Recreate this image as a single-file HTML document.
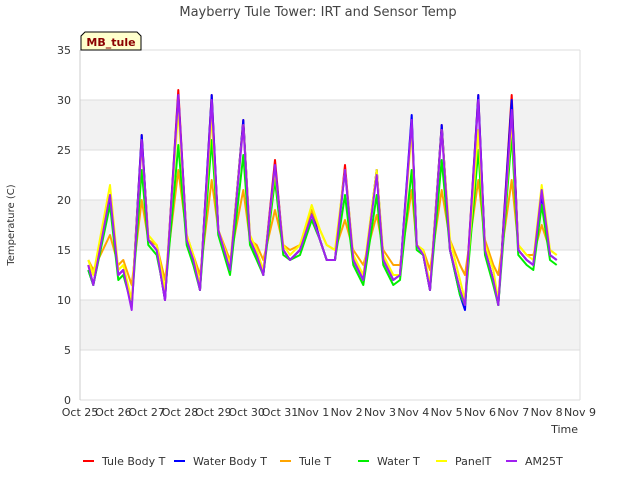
<!DOCTYPE html>
<html><head><meta charset="utf-8"><style>
body{margin:0;background:#fff;font-family:"Liberation Sans","DejaVu Sans",sans-serif}
svg text{font-family:"DejaVu Sans","Liberation Sans",sans-serif}
</style></head><body>
<svg id="c" width="640" height="480" xmlns="http://www.w3.org/2000/svg">
<text x="318" y="16" text-anchor="middle" font-size="13" fill="#444">Mayberry Tule Tower: IRT and Sensor Temp</text>
<g id="bands"></g><g id="axes"></g><g id="series"></g>
<g>
<path d="M81,50 L81,36 L85,32 L137,32 L141,36 L141,50 Z" fill="#ffffcc" stroke="#000" stroke-width="1"/>
<text x="111" y="46" text-anchor="middle" font-size="11" font-weight="bold" fill="#8b0000">MB_tule</text></g>
<text x="14" y="225" transform="rotate(-90 14 225)" text-anchor="middle" font-size="10" fill="#333">Temperature (C)</text>
<text x="578" y="433" text-anchor="end" font-size="11" fill="#333">Time</text>
<g id="legend"></g>
</svg>
<script>
const xTicks=["Oct 25","Oct 26","Oct 27","Oct 28","Oct 29","Oct 30","Oct 31","Nov 1","Nov 2","Nov 3","Nov 4","Nov 5","Nov 6","Nov 7","Nov 8","Nov 9"];
const yTicks=[0,5,10,15,20,25,30,35];
const seriesNames=["Tule Body T","Water Body T","Tule T","Water T","PanelT","AM25T"];
const seriesColors=["#ff0000","#0000ff","#ffa500","#00ee00","#ffff00","#a020f0"];
const times=[0.25,0.4,0.9,1.15,1.3,1.55,1.85,2.05,2.3,2.55,2.95,3.2,3.4,3.6,3.95,4.15,4.5,4.9,5.1,5.3,5.5,5.85,6.1,6.3,6.6,6.95,7.2,7.4,7.65,7.95,8.2,8.5,8.9,9.1,9.4,9.6,9.95,10.1,10.3,10.5,10.85,11.1,11.4,11.55,11.95,12.15,12.4,12.55,12.95,13.15,13.4,13.6,13.85,14.1,14.3];
const tuleBody=[13.5,11.5,20.5,12.5,13,9.5,26.5,16,15,10,31,16,14,11,30.5,17,13,28,16,14.5,12.5,24,15,14,15,19,16,14,14,23.5,14,12,23,14,12,12.5,28,15.5,14.5,11,27.5,15,11,9.5,30.5,15,12,9.5,30.5,15,14,13.5,21,14.5,14];
const waterBody=[13,11.5,20,12.5,13,9.5,26.5,16,15,10,30.5,16,14,11,30.5,17,13,28,16,14.5,12.5,23.5,15,14,15,19,16,14,14,23,14,12,23,14,12,12.5,28.5,15.5,14.5,11,27.5,15,10.5,9,30.5,15,12,9.5,30,15,14,13.5,20.5,14.5,14];
const tuleT=[14,13,16.5,13.5,14,11.5,20,16,15.5,12,23,16.5,14.5,12.5,22,17,14,21,16,15.5,14,19,15.5,15,15.5,19,17,15.5,15,18,15,13.5,18.5,15,13.5,13.5,21,15.5,15,13,21,16,13.5,12.5,22,16,13.5,12.5,22,15.5,14.5,14.5,17.5,15,14.5];
const waterT=[13,11.5,19.5,12,12.5,9.5,23,15.5,14.5,10.5,25.5,15.5,13.5,11,26,16.5,12.5,24.5,15.5,14,12.5,22,14.5,14,14.5,18,16,14,14,20.5,13.5,11.5,20.5,13.5,11.5,12,23,15,14.5,11,24,15,10.5,9.5,25,14.5,11.5,9.5,26.5,14.5,13.5,13,19.5,14,13.5];
const panelT=[14,12.5,21.5,13,13.5,10,25.5,16.5,15.5,11,29,16.5,14.5,11.5,28.5,17,13.5,27.5,16.5,15,13,23,15.5,14.5,15.5,19.5,17,15.5,15,23,14.5,12.5,23,14.5,12.5,12.5,27,15.5,15,11.5,27,16,12,10,27,15.5,13,10,28,15.5,14.5,14,21.5,15,14.5];
const am25T=[13.5,11.5,20.5,12.5,13,9,26,16,15,10,30.5,16,14,11,30,17,13,27.5,16,14.5,12.5,23.5,15,14,15,18.5,16,14,14,23,14,12,22.5,14,12,12.5,28,15.5,14.5,11,27,15,11,9.5,30,15,12,9.5,29,15,14,13.5,21,14.5,14];
const allSeries=[tuleBody,waterBody,tuleT,waterT,panelT,am25T];
const X0=80,X1=580,Y0=400,Y1=50;
const xs=d=>X0+(X1-X0)*d/15;
const ys=v=>Y0-(Y0-Y1)*v/35;
const NS="http://www.w3.org/2000/svg";
function mk(t,a,p){const e=document.createElementNS(NS,t);for(const k in a)e.setAttribute(k,a[k]);p.appendChild(e);return e;}
const bands=document.getElementById('bands');
for(let i=0;i<7;i++){const lo=i*5,hi=lo+5;
 if(i%2===1){const r=mk('rect',{x:X0,y:ys(hi),width:X1-X0,height:ys(lo)-ys(hi),fill:'#f2f2f2'},bands);
 
 }}
const axes=document.getElementById('axes');
yTicks.forEach(v=>{const l=mk('line',{x1:X0,x2:X1,y1:ys(v),y2:ys(v),stroke:'#dddddd','stroke-width':1},axes);
 
 
 const t=mk('text',{x:X0-9,y:ys(v)+4,'text-anchor':'end','font-size':11,fill:'#333'},axes);t.textContent=v;
 
 });
mk('line',{x1:X0,x2:X0,y1:Y1,y2:Y0,stroke:'#ccc'},axes);
mk('line',{x1:X1,x2:X1,y1:Y1,y2:Y0,stroke:'#ddd'},axes);
xTicks.forEach((s,i)=>{const t=mk('text',{x:xs(i),y:Y0+16,'text-anchor':'middle','font-size':11,fill:'#333'},axes);t.textContent=s;
 
 });
const sg=document.getElementById('series');
allSeries.forEach((arr,si)=>{const pts=arr.map((v,i)=>xs(times[i]).toFixed(1)+','+ys(v).toFixed(1)).join(' ');
 const p=mk('polyline',{points:pts,fill:'none',stroke:seriesColors[si],'stroke-width':2,'stroke-linejoin':'round'},sg);
 
 });
const lg=document.getElementById('legend');
const lx=[83,174,280,358,436,506];
seriesNames.forEach((n,i)=>{const g=mk('g',{},lg);
 
 
 mk('line',{x1:lx[i],x2:lx[i]+11,y1:461,y2:461,stroke:seriesColors[i],'stroke-width':2},g);
 const t=mk('text',{x:lx[i]+19,y:465,'font-size':11,fill:'#333'},g);t.textContent=n;});
</script>
</body></html>
